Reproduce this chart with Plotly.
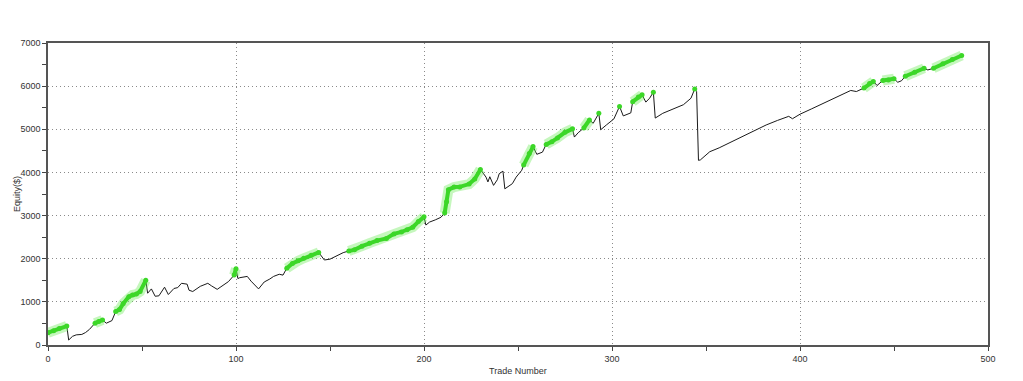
import plotly.graph_objects as go

trade_number = [0, 3, 6, 10, 11, 13, 15, 18, 20, 22, 25, 27, 29, 31, 34, 36, 38, 40, 43, 45,
                47, 49, 52, 53, 55, 57, 59, 62, 64, 67, 69, 71, 74, 75, 77, 81, 85, 87, 90, 92,
                96, 99, 100, 101, 102, 106, 108, 112, 115, 118, 120, 123, 125, 127, 130, 133, 136, 140, 144, 146,
                147, 150, 153, 157, 160, 163, 167, 171, 175, 180, 184, 188, 191, 194, 197, 200, 201, 203, 206, 209,
                211, 212, 213, 216, 219, 224, 227, 230, 232, 233, 234, 235, 237, 239, 240, 242, 243, 247, 249, 252,
                253, 256, 258, 260, 263, 265, 268, 271, 275, 279, 280, 282, 285, 288, 290, 293, 294, 297, 301, 304,
                306, 310, 311, 314, 316, 318, 320, 322, 323, 327, 330, 334, 338, 342, 344, 345, 346, 347, 349, 352,
                357, 364, 370, 377, 382, 388, 394, 396, 400, 406, 412, 419, 427, 430, 434, 437, 439, 441, 444, 447,
                450, 452, 454, 456, 461, 466, 468, 471, 476, 481, 486]

equity = [285, 330, 380, 440, 115, 200, 235, 245, 290, 360, 505, 545, 580, 505, 565, 775, 820, 960, 1120, 1160,
          1180, 1240, 1500, 1200, 1300, 1130, 1140, 1340, 1170, 1310, 1330, 1430, 1410, 1270, 1240, 1360, 1430, 1370, 1290, 1350,
          1470, 1620, 1770, 1540, 1560, 1590, 1480, 1300, 1460, 1530, 1590, 1640, 1620, 1780, 1890, 1950, 2010, 2080, 2145, 2010,
          1970, 1990, 2050, 2140, 2180, 2205, 2290, 2360, 2420, 2470, 2575, 2620, 2670, 2730, 2860, 2970, 2780, 2850, 2900, 2960,
          3060, 3320, 3600, 3660, 3665, 3730, 3850, 4070, 3950, 3890, 3780, 3900, 3700, 3830, 3970, 4030, 3620, 3740, 3890, 4050,
          4170, 4440, 4600, 4420, 4470, 4650, 4710, 4800, 4930, 5010, 4820, 4920, 5030, 5215, 5140, 5370, 4990, 5100, 5240, 5530,
          5310, 5380, 5640, 5750, 5800, 5630, 5720, 5860, 5260, 5370, 5420, 5490, 5570, 5720, 5935, 5875, 4280, 4290, 4360, 4480,
          4570, 4720, 4860, 5005, 5100, 5205, 5300, 5245, 5350, 5470, 5590, 5740, 5900, 5875, 5955, 6060, 6110, 6015, 6130, 6140,
          6170, 6090, 6125, 6230, 6320, 6415, 6375, 6415, 6520, 6620, 6710]

x_ticks = [0, 100, 200, 300, 400, 500]
y_ticks = [0, 1000, 2000, 3000, 4000, 5000, 6000, 7000]

# new equity highs (green)
gx, gy = [], []
runmax = float("-inf")
prev_green = False
for t, v in zip(trade_number, equity):
    g = v >= runmax
    if g:
        if not prev_green and gx:
            gx.append(None)
            gy.append(None)
        gx.append(t)
        gy.append(v)
    runmax = max(runmax, v)
    prev_green = g

fig = go.Figure()
fig.add_trace(go.Scatter(x=trade_number, y=equity, mode="lines",
                         line=dict(color="#1a1a1a", width=1), hoverinfo="skip"))
fig.add_trace(go.Scatter(x=gx, y=gy, mode="lines",
                         line=dict(color="rgba(110,235,90,0.4)", width=10), hoverinfo="skip"))
fig.add_trace(go.Scatter(x=gx, y=gy, mode="lines+markers",
                         line=dict(color="rgb(60,215,40)", width=4),
                         marker=dict(color="rgb(60,215,40)", size=5)))

axis_font = dict(family="Liberation Sans, Arial, sans-serif", size=9, color="#333")
fig.update_layout(
    width=1023, height=381,
    margin=dict(l=48, r=35, t=43, b=36),
    paper_bgcolor="white", plot_bgcolor="white",
    showlegend=False,
    xaxis=dict(range=[0, 500], tickvals=x_ticks, ticktext=[str(v) for v in x_ticks],
               showgrid=True, gridcolor="#8a8a8a", griddash="1px,3px", gridwidth=1,
               showline=True, linecolor="#555", linewidth=1.5, mirror=True,
               ticks="outside", ticklen=4, tickcolor="#444",
               minor=dict(dtick=50, tick0=0, ticks="outside", ticklen=4, tickcolor="#444", showgrid=False),
               zeroline=False, tickfont=axis_font, fixedrange=True),
    yaxis=dict(range=[0, 7000], tickvals=y_ticks, ticktext=[str(v) for v in y_ticks],
               showgrid=True, gridcolor="#8a8a8a", griddash="1px,3px", gridwidth=1,
               showline=True, linecolor="#555", linewidth=1.5, mirror=True,
               ticks="outside", ticklen=4, tickcolor="#444",
               minor=dict(dtick=500, tick0=0, ticks="outside", ticklen=4, tickcolor="#444", showgrid=False),
               zeroline=False, tickfont=axis_font, fixedrange=True),
    annotations=[
        dict(text="Trade Number", xref="paper", yref="paper", x=0.5, y=0, yshift=-26,
             xanchor="center", yanchor="middle", showarrow=False, font=axis_font),
        dict(text="Equity($)", xref="paper", yref="paper", x=0, y=0.5, xshift=-31,
             xanchor="center", yanchor="middle", textangle=-90, showarrow=False, font=axis_font),
    ],
)

fig.write_html("out.html", config={"displayModeBar": False},
               post_script="document.body.style.margin='0';document.body.style.overflow='hidden';")
